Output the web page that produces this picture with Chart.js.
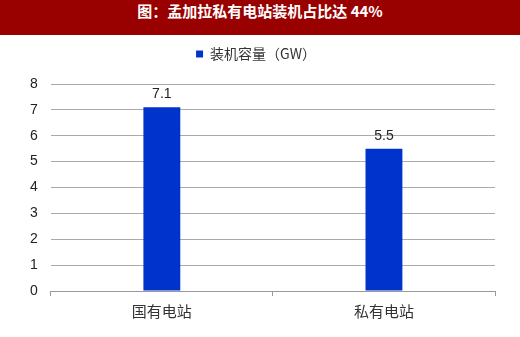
<!DOCTYPE html>
<html>
<head>
<meta charset="utf-8">
<script src="https://cdn.jsdelivr.net/npm/chart.js@4"></script>
<style>
  html, body { margin: 0; padding: 0; background: #fff; }
  #banner {
    width: 520px; height: 35px; line-height: 35px;
    background: #990000; color: #fff; text-align: center;
    font: bold 15px "Noto Sans CJK SC", sans-serif;
  }
  #wrap { position: relative; width: 520px; height: 302px; }
</style>
</head>
<body>
<div id="banner">图：孟加拉私有电站装机占比达 44%</div>
<div id="wrap"><canvas id="chart"></canvas></div>
<script>
const categories = ['国有电站', '私有电站'];
const capacity = [7.1, 5.5];
const seriesLabel = '装机容量（GW）';
const yTicks = [0, 1, 2, 3, 4, 5, 6, 7, 8];

// value labels above each bar
const barLabels = {
  id: 'barLabels',
  afterDatasetsDraw(chart) {
    const ctx = chart.ctx;
    ctx.save();
    ctx.font = '14px "Liberation Sans", Arial, sans-serif';
    ctx.fillStyle = '#222';
    ctx.textAlign = 'center';
    ctx.textBaseline = 'bottom';
    chart.getDatasetMeta(0).data.forEach((bar, i) => {
      ctx.fillText(capacity[i].toFixed(1), bar.x, bar.y - 6);
    });
    ctx.restore();
  },
};

// extra space under the legend
const legendGap = {
  id: 'legendGap',
  beforeInit(chart) {
    const fit = chart.legend.fit;
    chart.legend.fit = function () {
      fit.bind(chart.legend)();
      this.height += 13;
    };
  },
};

new Chart(document.getElementById('chart').getContext('2d'), {
  type: 'bar',
  data: {
    labels: categories,
    datasets: [{
      label: seriesLabel,
      data: capacity,
      backgroundColor: '#0033cc',
      barPercentage: 0.166,
      categoryPercentage: 1,
    }],
  },
  options: {
    responsive: true,
    maintainAspectRatio: false,
    animation: false,
    layout: { padding: { left: 17, right: 25, top: 0, bottom: 11 } },
    plugins: {
      legend: {
        position: 'top',
        labels: {
          boxWidth: 7, boxHeight: 7, padding: 12,
          color: '#333',
          font: { family: "'Noto Sans CJK SC', sans-serif", size: 14 },
        },
      },
      tooltip: { enabled: false },
    },
    scales: {
      x: {
        grid: { display: true, drawOnChartArea: false, drawTicks: true, tickLength: 5, color: '#999' },
        border: { display: true, color: '#999' },
        ticks: { color: '#333', padding: 6, font: { family: "'Noto Sans CJK SC', sans-serif", size: 15 } },
      },
      y: {
        min: 0, max: 8,
        afterBuildTicks: (axis) => { axis.ticks = yTicks.map(v => ({ value: v })); },
        grid: { color: '#aaa', drawTicks: false },
        border: { display: false },
        ticks: { color: '#222', padding: 13, font: { family: "'Liberation Sans', Arial, sans-serif", size: 14 } },
      },
    },
  },
  plugins: [barLabels, legendGap],
});
</script>
</body>
</html>
